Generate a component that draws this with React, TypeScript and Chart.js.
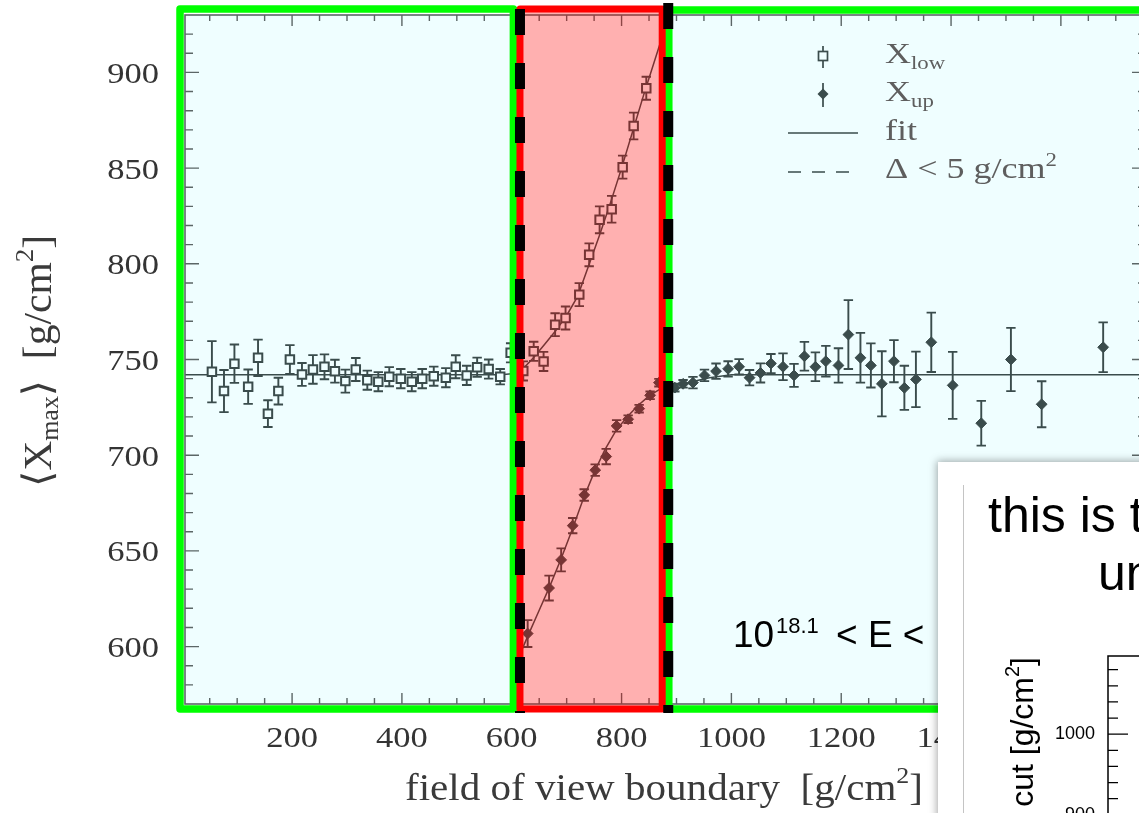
import React, { useEffect, useRef } from "react";
import { Chart, registerables } from "chart.js";

Chart.register(...registerables);

// ---------------- data ----------------
const xLowX = [54, 76, 95, 120, 138, 156, 175, 196, 218, 238, 259, 278, 297, 316, 337, 357, 377, 398, 418, 437, 458, 480, 498, 518, 537, 558, 579, 598, 621, 640, 658, 679, 698, 723, 741, 760, 782, 802, 822, 845];
const xLowY = [743.6, 733.5, 747.8, 735.8, 750.9, 721.7, 733.5, 750, 742.2, 744.8, 746.2, 743.9, 738.7, 744.8, 739.2, 738.4, 741, 740, 738.4, 740, 741.3, 740.5, 746.2, 741.7, 746, 745, 741, 753.5, 744, 754.3, 749, 768.2, 771.7, 783.9, 804.7, 823, 828.5, 850.5, 872, 891.7];
const xLowErr = [16, 11, 10, 9, 9.5, 7, 7, 7.5, 6, 7.5, 6.5, 6, 6, 6, 5, 5, 5, 5, 5, 5, 5, 5, 6, 5, 5, 5, 4, 5, 5, 5, 5, 6, 6, 6, 6, 7, 7, 6, 7, 6];

const xUpX = [629, 668, 690, 711, 732, 752, 772, 791, 812, 832, 852, 868, 897, 912, 930, 951, 972, 994, 1014, 1033, 1053, 1072, 1094, 1114, 1133, 1153, 1172, 1195, 1213, 1235, 1254, 1274, 1296, 1315, 1336, 1364, 1403, 1455, 1509, 1565, 1677];
const xUpY = [606.8, 630.6, 645.3, 663.2, 679.2, 692.2, 699.3, 715.3, 718.8, 724.3, 731.3, 737.9, 735.3, 737.3, 737.9, 741.7, 743.9, 745.1, 746.2, 740.5, 743, 747.9, 746.2, 741.7, 751.7, 746.2, 749.1, 746.9, 763, 750.9, 746.9, 737.3, 749.1, 735.2, 739.6, 759, 736.5, 716.7, 750, 726.6, 756.4];
const xUpErr = [7, 6.5, 6, 4, 3, 3, 4, 3, 2, 2, 2, 2, 2, 2, 3, 3, 4, 4, 4, 4, 5, 5, 7, 6, 7.5, 7.5, 8, 9, 18, 13, 11.5, 17, 11, 11.5, 14.5, 15.5, 17.5, 11.7, 16.5, 12, 13];

const fitLowX = [5, 100, 200, 300, 400, 500, 580, 600, 620, 640, 660, 680, 700, 720, 740, 760, 780, 800, 820, 840, 860, 880];
const fitLowY = [742, 742, 742, 742, 742, 742, 742, 742.5, 745, 751, 758, 765, 773, 783, 799, 815, 832, 850, 869, 888, 906, 924];
const fitUpX = [618, 630, 650, 670, 690, 710, 730, 750, 770, 790, 810, 830, 850, 870, 890, 910, 930, 960, 1000, 1755];
const fitUpY = [598, 606, 619, 632, 646, 661, 677, 691, 703, 713, 720, 726, 731, 734.5, 736, 737, 738.5, 740.5, 742, 742];

const xTickValues = [200, 400, 600, 800, 1000, 1200, 1400, 1600];
const yTickValues = [600, 650, 700, 750, 800, 850, 900];
const insetTickValues = [900, 1000];

// annotated regions (in g/cm^2 of the x axis)
const goodLowRange = [5, 603];
const biasedRange = [615, 874];
const goodHighRange = [886, 1790];
const dashedCuts = [615, 885];

const X_MIN = 5, X_MAX = 1755, Y_MIN = 570, Y_MAX = 930;
const INSET_MIN = 705, INSET_MAX = 1097;

// ---------------- styles ----------------
const SLATE = "#3a4c4c";
const AXIS = "#5b6666";
const PLOT_BG = "#effeff";
const SERIF = '"Liberation Serif", "DejaVu Serif", serif';
const SANS = '"Liberation Sans", Arial, sans-serif';

type Run = { t: string; s: number; dy: number };

function runsWidth(ctx: CanvasRenderingContext2D, runs: Run[], fam: string) {
  let w = 0;
  for (const r of runs) {
    ctx.font = `${r.s}px ${fam}`;
    w += ctx.measureText(r.t).width;
  }
  return w;
}

function drawRuns(ctx: CanvasRenderingContext2D, runs: Run[], fam: string, x: number, y: number, sx: number) {
  ctx.save();
  ctx.translate(x, y);
  ctx.scale(sx, 1);
  ctx.textAlign = "left";
  ctx.textBaseline = "alphabetic";
  let cx = 0;
  for (const r of runs) {
    ctx.font = `${r.s}px ${fam}`;
    ctx.fillText(r.t, cx, r.dy);
    cx += ctx.measureText(r.t).width;
  }
  ctx.restore();
}

const inBiased = (v: number) => v >= biasedRange[0] && v <= biasedRange[1];

const mainPlugin = {
  id: "mainDecor",
  beforeDraw(chart: any) {
    const { ctx, chartArea: a, width, height, scales } = chart;
    const xs = scales.x;
    ctx.save();
    ctx.fillStyle = "#ffffff";
    ctx.fillRect(0, 0, width, height);
    ctx.fillStyle = PLOT_BG;
    ctx.fillRect(a.left, a.top, a.right - a.left, a.bottom - a.top);
    // the highlighted band sits on a white ground
    const bx0 = xs.getPixelForValue(biasedRange[0]);
    const bx1 = xs.getPixelForValue(biasedRange[1]);
    ctx.fillStyle = "#ffffff";
    ctx.fillRect(bx0, a.top, bx1 - bx0, a.bottom - a.top);
    ctx.restore();
  },
  beforeDatasetsDraw(chart: any) {
    const { ctx, chartArea: a, scales } = chart;
    const xs = scales.x, ys = scales.y;
    ctx.save();
    ctx.beginPath();
    ctx.rect(a.left, a.top, a.right - a.left, a.bottom - a.top);
    ctx.clip();
    ctx.strokeStyle = SLATE;
    ctx.lineWidth = 1.9;
    const bars = (X: number[], Y: number[], E: number[]) => {
      for (let i = 0; i < X.length; i++) {
        const px = xs.getPixelForValue(X[i]);
        const y1 = ys.getPixelForValue(Y[i] + E[i]);
        const y2 = ys.getPixelForValue(Y[i] - E[i]);
        ctx.beginPath();
        ctx.moveTo(px, y1); ctx.lineTo(px, y2);
        ctx.moveTo(px - 4.7, y1); ctx.lineTo(px + 4.7, y1);
        ctx.moveTo(px - 4.7, y2); ctx.lineTo(px + 4.7, y2);
        ctx.stroke();
      }
    };
    bars(xLowX, xLowY, xLowErr);
    bars(xUpX, xUpY, xUpErr);
    ctx.restore();
  },
  afterDraw(chart: any) {
    const { ctx, chartArea: a, scales } = chart;
    const xs = scales.x, ys = scales.y;
    ctx.save();
    // frame
    ctx.strokeStyle = AXIS;
    ctx.lineWidth = 1.6;
    ctx.strokeRect(a.left, a.top, a.right - a.left, a.bottom - a.top);
    ctx.lineWidth = 1.4;
    ctx.beginPath();
    for (let v = 50; v < X_MAX; v += 50) {
      const px = xs.getPixelForValue(v);
      const len = v % 200 === 0 ? 11 : 6;
      ctx.moveTo(px, a.bottom); ctx.lineTo(px, a.bottom - len);
      ctx.moveTo(px, a.top); ctx.lineTo(px, a.top + len);
    }
    for (let v = 580; v <= 920; v += 10) {
      const py = ys.getPixelForValue(v);
      const len = v % 50 === 0 ? 14 : 8;
      ctx.moveTo(a.left, py); ctx.lineTo(a.left + len, py);
      ctx.moveTo(a.right, py); ctx.lineTo(a.right - len, py);
    }
    ctx.stroke();

    // tick labels
    ctx.fillStyle = "#343434";
    ctx.font = `30px ${SERIF}`;
    ctx.textBaseline = "alphabetic";
    for (const v of yTickValues) {
      const py = ys.getPixelForValue(v);
      ctx.save();
      ctx.translate(159, py + 10.5);
      ctx.scale(1.15, 1);
      ctx.textAlign = "right";
      ctx.fillText(String(v), 0, 0);
      ctx.restore();
    }
    for (const v of xTickValues) {
      const px = xs.getPixelForValue(v);
      ctx.save();
      ctx.translate(px, 747);
      ctx.scale(1.15, 1);
      ctx.textAlign = "center";
      ctx.fillText(String(v), 0, 0);
      ctx.restore();
    }

    // axis titles
    ctx.fillStyle = "#3a3a3a";
    const xTitle: Run[] = [
      { t: "field of view boundary  [g/cm", s: 38, dy: 0 },
      { t: "2", s: 24, dy: -17 },
      { t: "]", s: 38, dy: 0 },
    ];
    const xw = runsWidth(ctx, xTitle, SERIF);
    drawRuns(ctx, xTitle, SERIF, 405, 800, 518 / xw);

    const yTitle: Run[] = [
      { t: "\u27E8X", s: 40, dy: 0 },
      { t: "max", s: 25, dy: 7 },
      { t: "\u27E9  [g/cm", s: 40, dy: 0 },
      { t: "2", s: 26, dy: -18 },
      { t: "]", s: 40, dy: 0 },
    ];
    const yw = runsWidth(ctx, yTitle, SERIF);
    ctx.save();
    ctx.translate(51, 487);
    ctx.rotate(-Math.PI / 2);
    drawRuns(ctx, yTitle, SERIF, 0, 0, 252 / yw);
    ctx.restore();

    // legend
    const deltaRuns: Run[] = [
      { t: "\u0394 < 5 g/cm", s: 30, dy: 0 },
      { t: "2", s: 19, dy: -12 },
    ];
    const lsx = 172 / runsWidth(ctx, deltaRuns, SERIF);
    ctx.fillStyle = "#5e5e5e";
    drawRuns(ctx, [{ t: "X", s: 30, dy: 0 }, { t: "low", s: 19, dy: 6 }], SERIF, 885, 63, lsx);
    drawRuns(ctx, [{ t: "X", s: 30, dy: 0 }, { t: "up", s: 19, dy: 6 }], SERIF, 885, 101, lsx);
    drawRuns(ctx, [{ t: "fit", s: 30, dy: 0 }], SERIF, 885, 140, lsx);
    drawRuns(ctx, deltaRuns, SERIF, 885, 178, lsx);

    ctx.strokeStyle = SLATE;
    ctx.fillStyle = SLATE;
    ctx.lineWidth = 1.7;
    ctx.beginPath();
    ctx.moveTo(823, 46); ctx.lineTo(823, 68);
    ctx.moveTo(823, 83); ctx.lineTo(823, 107);
    ctx.stroke();
    ctx.fillStyle = PLOT_BG;
    ctx.fillRect(818.5, 51.5, 9, 9);
    ctx.strokeRect(818.5, 51.5, 9, 9);
    ctx.fillStyle = SLATE;
    ctx.beginPath();
    ctx.moveTo(823, 88.5); ctx.lineTo(828.5, 94); ctx.lineTo(823, 99.5); ctx.lineTo(817.5, 94); ctx.closePath();
    ctx.fill();
    ctx.lineWidth = 1.6;
    ctx.beginPath();
    ctx.moveTo(788, 133); ctx.lineTo(858, 133);
    ctx.stroke();
    ctx.setLineDash([13, 11]);
    ctx.beginPath();
    ctx.moveTo(788, 172); ctx.lineTo(852, 172);
    ctx.stroke();
    ctx.setLineDash([]);

    // energy label
    ctx.fillStyle = "#000";
    ctx.textAlign = "left";
    ctx.font = `37px ${SANS}`;
    ctx.fillText("10", 733, 647);
    ctx.font = `22px ${SANS}`;
    ctx.fillText("18.1", 776, 633);
    ctx.font = `37px ${SANS}`;
    ctx.fillText("< E <", 836, 647);

    // highlighted regions
    const top = a.top - 6, bot = a.bottom + 5;
    const bx0 = xs.getPixelForValue(biasedRange[0]);
    const bx1 = xs.getPixelForValue(biasedRange[1]);
    ctx.fillStyle = "rgba(255,0,0,0.31)";
    ctx.fillRect(bx0, top, bx1 - bx0, bot - top);

    ctx.lineJoin = "round";
    ctx.strokeStyle = "#00ff00";
    ctx.lineWidth = 7.5;
    const g0 = xs.getPixelForValue(goodLowRange[0]) - 5;
    const g1 = xs.getPixelForValue(goodLowRange[1]);
    ctx.strokeRect(g0, top, g1 - g0, bot - top);
    const h0 = xs.getPixelForValue(goodHighRange[0]);
    const h1 = xs.getPixelForValue(goodHighRange[1]);
    ctx.strokeRect(h0, top + 1, h1 - h0, bot - top - 1);

    ctx.strokeStyle = "#ff0000";
    ctx.lineWidth = 7;
    ctx.strokeRect(bx0, top, bx1 - bx0, bot - top);

    ctx.strokeStyle = "#000";
    ctx.lineWidth = 10;
    ctx.lineCap = "butt";
    ctx.setLineDash([26, 28]);
    const d0 = xs.getPixelForValue(dashedCuts[0]);
    const d1 = xs.getPixelForValue(dashedCuts[1]);
    ctx.beginPath();
    ctx.moveTo(d0, top); ctx.lineTo(d0, bot + 4);
    ctx.stroke();
    ctx.beginPath();
    ctx.moveTo(d1, top - 6); ctx.lineTo(d1, bot + 4);
    ctx.stroke();
    ctx.setLineDash([]);
    ctx.restore();
  },
};

const insetPlugin = {
  id: "insetDecor",
  beforeDraw(chart: any) {
    const { ctx, width, height } = chart;
    ctx.save();
    ctx.fillStyle = "#ffffff";
    ctx.fillRect(0, 0, width, height);
    ctx.restore();
  },
  afterDraw(chart: any) {
    const { ctx, chartArea: a, scales, height } = chart;
    const ys = scales.y;
    ctx.save();
    ctx.strokeStyle = "#c4c4c4";
    ctx.lineWidth = 1;
    ctx.beginPath();
    ctx.moveTo(25.5, 23); ctx.lineTo(25.5, height);
    ctx.stroke();

    ctx.fillStyle = "#000";
    ctx.textAlign = "left";
    ctx.textBaseline = "alphabetic";
    ctx.font = `50px ${SANS}`;
    ctx.fillText("this is t", 50, 70);
    ctx.fillText("un", 160, 128);

    ctx.strokeStyle = "#000";
    ctx.lineWidth = 1.5;
    ctx.beginPath();
    ctx.moveTo(a.left, a.bottom); ctx.lineTo(a.left, a.top); ctx.lineTo(a.right, a.top);
    ctx.stroke();
    ctx.lineWidth = 1.2;
    ctx.beginPath();
    for (let v = 720; v <= 1080; v += 20) {
      const py = ys.getPixelForValue(v);
      const len = v % 100 === 0 ? 20 : 10;
      ctx.moveTo(a.left, py); ctx.lineTo(a.left + len, py);
    }
    ctx.stroke();

    ctx.font = `18px ${SANS}`;
    ctx.textAlign = "right";
    ctx.textBaseline = "middle";
    for (const v of insetTickValues) {
      ctx.fillText(String(v), 157, ys.getPixelForValue(v));
    }

    const lab: Run[] = [
      { t: "cut [g/cm", s: 32, dy: 0 },
      { t: "2", s: 20, dy: -14 },
      { t: "]", s: 32, dy: 0 },
    ];
    const lw = runsWidth(ctx, lab, SANS);
    ctx.save();
    ctx.translate(95, 195 + lw);
    ctx.rotate(-Math.PI / 2);
    drawRuns(ctx, lab, SANS, 0, 0, 1);
    ctx.restore();
    ctx.restore();
  },
};

function mainConfig(): any {
  return {
    type: "scatter",
    data: {
      datasets: [
        {
          label: "X_low",
          data: xLowX.map((x, i) => ({ x, y: xLowY[i] })),
          pointStyle: "rect",
          pointRadius: 6,
          borderWidth: 2,
          borderColor: SLATE,
          backgroundColor: (c: any) => (c.raw && inBiased(c.raw.x) ? "#ffffff" : PLOT_BG),
          showLine: false,
        },
        {
          label: "X_up",
          data: xUpX.map((x, i) => ({ x, y: xUpY[i] })),
          pointStyle: "rectRot",
          pointRadius: 5.4,
          borderWidth: 1,
          borderColor: SLATE,
          backgroundColor: SLATE,
          showLine: false,
        },
        {
          label: "fit low",
          data: fitLowX.map((x, i) => ({ x, y: fitLowY[i] })),
          showLine: true,
          pointRadius: 0,
          borderColor: SLATE,
          borderWidth: 1.5,
          tension: 0,
        },
        {
          label: "fit up",
          data: fitUpX.map((x, i) => ({ x, y: fitUpY[i] })),
          showLine: true,
          pointRadius: 0,
          borderColor: SLATE,
          borderWidth: 1.5,
          tension: 0,
        },
      ],
    },
    options: {
      animation: false,
      responsive: false,
      devicePixelRatio: 1,
      events: [],
      layout: { padding: { left: 185, right: 14, top: 15, bottom: 109 } },
      plugins: { legend: { display: false }, tooltip: { enabled: false }, title: { display: false } },
      scales: {
        x: { type: "linear", min: X_MIN, max: X_MAX, display: false },
        y: { type: "linear", min: Y_MIN, max: Y_MAX, display: false },
      },
    },
    plugins: [mainPlugin],
  };
}

function insetConfig(): any {
  return {
    type: "scatter",
    data: { datasets: [{ label: "cut", data: [], pointRadius: 0 }] },
    options: {
      animation: false,
      responsive: false,
      devicePixelRatio: 1,
      events: [],
      layout: { padding: { left: 170, right: 0, top: 194, bottom: 10 } },
      plugins: { legend: { display: false }, tooltip: { enabled: false } },
      scales: {
        x: { type: "linear", min: 0, max: 1, display: false },
        y: { type: "linear", min: INSET_MIN, max: INSET_MAX, display: false },
      },
    },
    plugins: [insetPlugin],
  };
}

export default function App() {
  const mainRef = useRef<HTMLCanvasElement>(null);
  const insetRef = useRef<HTMLCanvasElement>(null);
  useEffect(() => {
    const c1 = new Chart(mainRef.current as HTMLCanvasElement, mainConfig());
    const c2 = new Chart(insetRef.current as HTMLCanvasElement, insetConfig());
    return () => {
      c1.destroy();
      c2.destroy();
    };
  }, []);
  return (
    <div style={{ position: "fixed", left: 0, top: 0, width: 1139, height: 813, overflow: "hidden", background: "#fff" }}>
      <canvas ref={mainRef} width={1160} height={813} style={{ position: "absolute", left: 0, top: 0, width: 1160, height: 813 }} />
      <div style={{ position: "absolute", left: 938, top: 462, width: 420, height: 520, background: "#fff", boxShadow: "0 0 8px 1px rgba(0,0,0,0.35)" }}>
        <canvas ref={insetRef} width={420} height={520} style={{ display: "block", width: 420, height: 520 }} />
      </div>
    </div>
  );
}
